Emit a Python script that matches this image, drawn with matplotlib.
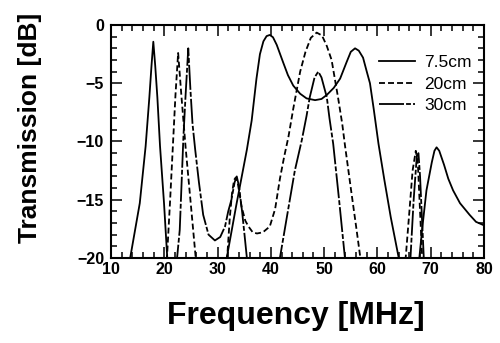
import numpy as np
import matplotlib
matplotlib.use('Agg')
import matplotlib.pyplot as plt

nan = np.nan

# 7.5cm line (solid)
f_75 = [13.3, 13.6, 15.4, 16.5, 17.2, 17.6, 17.94, 18.3, 18.7, 19.2, 19.95, 20.6, nan,
        31.5, 31.6, 33.5, 35.5, 36.4, 37.3, 37.95, 38.6, 39.2, 39.8, 40.4, 41.1, 42.3, 43.2,
        44.2, 45.5, 46.7, 48.3, 49.5, 50.5, 51.8, 53.0, 54.2, 55.0, 55.8, 56.5, 57.3, 58.0,
        58.6, 59.3, 60.2, 61.3, 62.5, 64.0, 64.2, nan,
        67.7, 67.8, 68.4, 69.2, 70.2, 70.7, 71.1, 71.6, 72.5, 73.3, 74.2, 75.5, 77.3, 78.5, 80.0]
db_75 = [-21, -20, -15.3, -10.4, -6.2, -3.5, -1.43, -3.5, -6.2, -10.4, -15.3, -20.3, nan,
         -20.6, -20.3, -15.5, -10.7, -8.2, -4.6, -2.5, -1.4, -0.95, -0.85, -1.05, -1.7, -3.2, -4.3,
         -5.2, -5.9, -6.3, -6.45, -6.35, -6.0, -5.4, -4.6, -3.2, -2.3, -2.0, -2.2, -2.8, -4.0,
         -5.0, -7.2, -10.2, -13.3, -16.5, -20.0, -20.5, nan,
         -20.6, -20.3, -17.5, -14.2, -11.8, -10.8, -10.5, -10.8, -12.0, -13.2, -14.2, -15.3, -16.3, -16.9, -17.2]

# 20cm line (dashed)
f_20 = [20.3, 20.5, 21.1, 21.6, 22.1, 22.6, 23.2, 24.0, 25.0, 25.9, 26.1, nan,
        31.6, 31.8, 32.3, 32.7, 33.1, 33.4, 33.8, 34.5, 35.2, 35.8, 36.6, 37.4, 38.5, 39.8,
        40.8, 41.7, 42.5, 43.3, 44.2, 45.5, 46.5, 47.5, 48.6, 49.6, 50.5, 51.4, 52.6, 53.4,
        53.9, 55.0, 56.0, 56.8, 57.0, nan,
        65.1, 65.3, 66.0, 66.6, 67.2, 67.6, 68.0, 68.4, 68.5]
db_20 = [-21, -20, -15, -10.5, -6, -2.4, -6, -10.5, -15.5, -20, -21, nan,
         -21, -20, -16.5, -14.5, -13.3, -13.1, -13.6, -15.6, -16.8, -17.3, -17.8, -17.9, -17.8, -17.3,
         -15.8, -13.2, -11.3, -9.6, -7.2, -4.0, -2.3, -1.1, -0.65, -0.9, -1.8, -3.0, -6.2, -8.5,
         -10.3, -14.0, -17.3, -20, -21, nan,
         -21, -20, -16, -12.5, -10.8, -12, -16, -20, -21]

# 30cm line (long dash - short dash)
f_30 = [22.2, 22.4, 22.9, 23.6, 24.0, 24.5, 24.9, 25.3, 25.8, 26.5, 27.3, 28.3, 29.5, 30.5,
        31.4, 32.0, 32.6, 33.2, 33.6, 34.0, 34.6, 35.1, 35.5, 35.6, nan,
        41.5, 41.7, 43.0, 44.5, 45.8, 46.7, 47.3, 48.2, 48.9, 49.5, 50.5, 51.0, 51.7, 52.8, 53.9, 54.0, nan,
        66.0, 66.2, 66.8, 67.4, 67.7, 68.0, 68.4, 68.7, 68.8]
db_30 = [-21, -20, -17.6, -9.5, -6, -2.0, -5.5, -8.5, -10.7, -13.5, -16.3, -18.0, -18.5, -18.2,
         -17.3, -16.0, -15.0, -13.5, -13.0, -13.8, -16.0, -18.2, -20, -21, nan,
         -21, -20, -16.5, -12.5, -9.9, -7.8, -6.2, -4.5, -4.0, -4.5, -6.2, -8.0, -10.2, -15.0, -20, -21, nan,
         -21, -20, -15, -11.2, -11.0, -13, -17, -20, -21]

plt.rcParams['lines.scale_dashes'] = False
plt.rcParams['font.family'] = ['Liberation Sans', 'DejaVu Sans']

fig = plt.figure(figsize=(5, 3.43), dpi=100)
ax = fig.add_axes([0.222, 0.248, 0.746, 0.679])

ax.plot(f_75, db_75, color='black', lw=1.3, label='7.5cm')
ax.plot(f_20, db_20, color='black', lw=1.3, dashes=(4.3, 2.2), label='20cm')
ax.plot(f_30, db_30, color='black', lw=1.3, dashes=(18, 1.5, 3.5, 1.5), label='30cm')

ax.set_xlim(10, 80)
ax.set_ylim(-20, 0)
ax.set_xticks(range(10, 81, 10))
ax.set_xticks(range(10, 81, 2), minor=True)
ax.set_yticks(range(-20, 1, 5))
ax.set_yticks(range(-20, 1, 1), minor=True)
ax.tick_params(which='both', direction='in', top=True, right=True, width=1.1)
ax.tick_params(which='major', length=8, labelsize=11.5)
ax.tick_params(axis='y', which='major', pad=5)
ax.tick_params(axis='x', which='major', pad=3)
ax.tick_params(which='minor', length=4)
for lab in ax.get_xticklabels() + ax.get_yticklabels():
    lab.set_fontweight('bold')
for sp in ax.spines.values():
    sp.set_linewidth(1.5)

fig.text(0.592, 0.079, 'Frequency [MHz]', fontsize=23, fontweight='bold',
         ha='center', va='center')
fig.text(0.06, 0.627, 'Transmission [dB]', fontsize=19, fontweight='bold',
         ha='center', va='center', rotation=90)

ax.legend(loc='upper left', bbox_to_anchor=(0.718, 0.872), frameon=False,
          fontsize=12.5, handlelength=2.1, handletextpad=0.5, labelspacing=0.37,
          borderpad=0, borderaxespad=0)

fig.savefig('out.png', dpi=100)
